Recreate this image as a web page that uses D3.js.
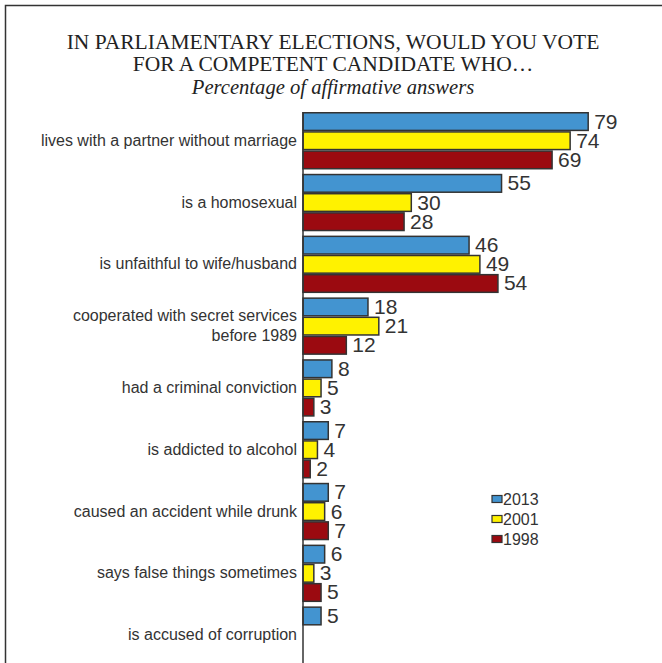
<!DOCTYPE html>
<html>
<head>
<meta charset="utf-8">
<script src="https://cdn.jsdelivr.net/npm/d3@7"></script>
<style>
  body { margin: 0; background: #fff; }
  svg { display: block; }
</style>
</head>
<body>
<div class="container"></div>
<script>
// data
const categories = [
  "lives with a partner without marriage",
  "is a homosexual",
  "is unfaithful to wife/husband",
  "cooperated with secret services|before 1989",
  "had a criminal conviction",
  "is addicted to alcohol",
  "caused an accident while drunk",
  "says false things sometimes",
  "is accused of corruption"
];
const years = ["2013", "2001", "1998"];
const values2013 = [79, 55, 46, 18, 8, 7, 7, 6, 5];
const values2001 = [74, 30, 49, 21, 5, 4, 6, 3, null];
const values1998 = [69, 28, 54, 12, 3, 2, 7, 5, null];
const colors = ["#4394d0", "#fff200", "#9b0a10"];

const titleLines = ["IN PARLIAMENTARY ELECTIONS, WOULD YOU VOTE", "FOR A COMPETENT CANDIDATE WHO…"];
const subtitle = "Percentage of affirmative answers";

const w = 662, h = 663;
const axisX = 303;

const rows = categories.map((c, i) => ({
  cat: c,
  vals: [values2013[i], values2001[i], values1998[i]]
}));

const svg = d3.select(".container")
  .append("svg")
  .attr("width", w)
  .attr("height", h);

// frame (only left and top visible)
svg.append("path")
  .attr("d", `M5.5,${h} V5.5 H${w}`)
  .attr("fill", "none")
  .attr("stroke", "#333")
  .attr("stroke-width", 1.5);

// titles
svg.selectAll(".title")
  .data(titleLines)
  .enter()
  .append("text")
  .attr("class", "title")
  .attr("x", 333)
  .attr("y", (d, i) => 48.5 + i * 22.5)
  .attr("text-anchor", "middle")
  .style("font-family", "'Liberation Serif', 'Times New Roman', serif")
  .style("font-size", "21.5px")
  .attr("fill", "#222")
  .text(d => d);

svg.append("text")
  .attr("x", 333)
  .attr("y", 94)
  .attr("text-anchor", "middle")
  .style("font-family", "'Liberation Serif', 'Times New Roman', serif")
  .style("font-size", "20.6px")
  .style("font-style", "italic")
  .attr("fill", "#222")
  .text(subtitle);

// scales
const xScale = d3.scaleLinear()
  .domain([0, 100])
  .range([axisX, axisX + 361]);

const yScale = d3.scaleBand()
  .domain(categories)
  .range([112, 112 + 61.8 * (categories.length - 0.07)])
  .paddingInner(0.07)
  .paddingOuter(0);

const yInner = d3.scaleBand()
  .domain(d3.range(years.length))
  .range([0, yScale.bandwidth()]);

// groups
const groups = svg.selectAll(".group")
  .data(rows)
  .enter()
  .append("g")
  .attr("class", "group")
  .attr("transform", d => `translate(0,${yScale(d.cat)})`);

const bars = groups.selectAll("g.bar")
  .data(d => d.vals.map((v, i) => ({ v, i })).filter(e => e.v != null))
  .enter()
  .append("g")
  .attr("class", "bar");

bars.append("rect")
  .attr("x", xScale(0))
  .attr("y", d => yInner(d.i) + 0.75)
  .attr("width", d => xScale(d.v) - xScale(0))
  .attr("height", yInner.bandwidth() - 1.5)
  .attr("fill", d => colors[d.i])
  .attr("stroke", "#333")
  .attr("stroke-width", 1.5);

bars.append("text")
  .attr("x", d => xScale(d.v) + 6)
  .attr("y", d => yInner(d.i) + yInner.bandwidth() / 2 + 7)
  .style("font-family", "'Liberation Sans', Arial, sans-serif")
  .style("font-size", "21px")
  .attr("fill", "#333")
  .text(d => d.v);

// category labels
groups.each(function(d) {
  const lines = d.cat.split("|");
  const mid = yScale.bandwidth() / 2 + 5;
  const t = d3.select(this).append("text")
    .attr("text-anchor", "end")
    .style("font-family", "'Liberation Sans', Arial, sans-serif")
    .style("font-size", "16px")
    .attr("fill", "#333");
  lines.forEach((l, k) => {
    t.append("tspan")
      .attr("x", axisX - 6)
      .attr("y", mid + (k - (lines.length - 1) / 2) * 20)
      .text(l);
  });
});

// axis line
svg.append("line")
  .attr("x1", axisX)
  .attr("x2", axisX)
  .attr("y1", 112)
  .attr("y2", h)
  .attr("stroke", "#333")
  .attr("stroke-width", 1.5);

// legend
const legend = svg.append("g")
  .attr("transform", "translate(492,499)");

const li = legend.selectAll("g")
  .data(years)
  .enter()
  .append("g")
  .attr("transform", (d, i) => `translate(0,${i * 20})`);

li.append("rect")
  .attr("x", 0)
  .attr("y", -3.5)
  .attr("width", 10)
  .attr("height", 7)
  .attr("fill", (d, i) => colors[i])
  .attr("stroke", "#333")
  .attr("stroke-width", 1.2);

li.append("text")
  .attr("x", 11)
  .attr("y", 6)
  .style("font-family", "'Liberation Sans', Arial, sans-serif")
  .style("font-size", "16px")
  .attr("fill", "#333")
  .text(d => d);
</script>
</body>
</html>
